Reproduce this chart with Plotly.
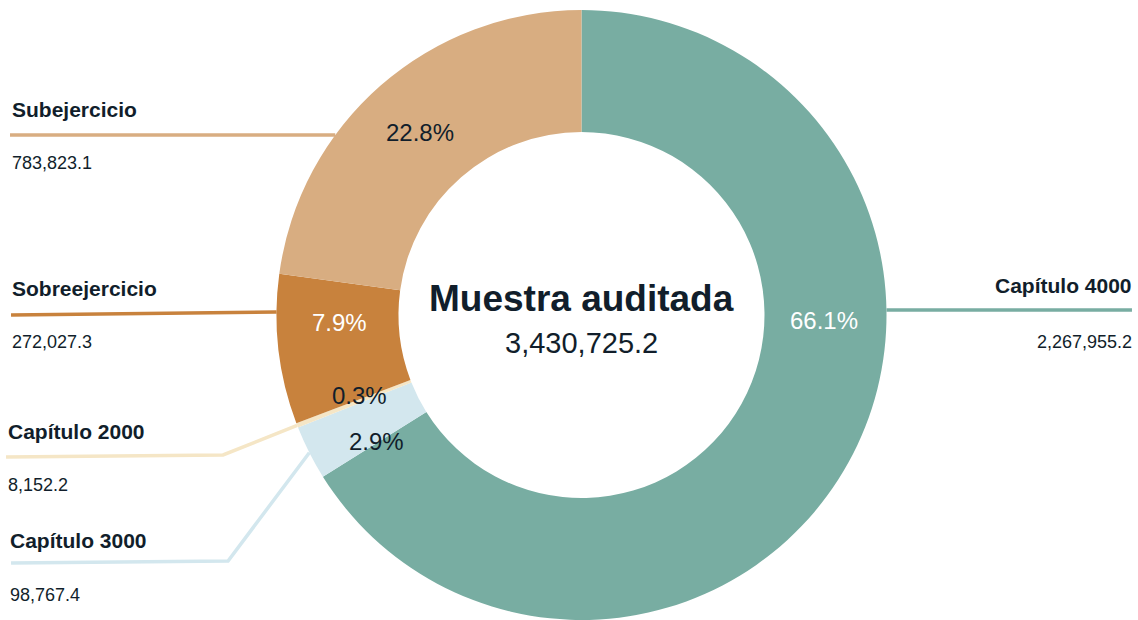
import math
import plotly.graph_objects as go

labels = ["Capítulo 4000", "Capítulo 3000", "Capítulo 2000", "Sobreejercicio", "Subejercicio"]
values = [2267955.2, 98767.4, 8152.2, 272027.3, 783823.1]
pct_labels = ["66.1%", "2.9%", "0.3%", "7.9%", "22.8%"]
colors = ["#78ADA2", "#D3E7EE", "#F5E6C6", "#C8823D", "#D8AD81"]
pct_colors = ["white", "#111E2B", "#111E2B", "white", "#111E2B"]
center_title = "Muestra auditada"

W, H, TOP = 1138, 620, 10
CX, CY, R, HOLE = 581.5, 315, 305, 0.6
TXT = "#111E2B"
FONT = "Liberation Sans, Arial, sans-serif"
PAD = 2  # annotation box padding


def paper(x, y):
    # pixel -> paper coords (plot area starts TOP px below the page top)
    return x / W, 1 - (y - TOP) / (H - TOP)


def edge_point(angle_cw, r=R):
    t = math.radians(90 - angle_cw)
    return CX + r * math.cos(t), CY - r * math.sin(t)


def edge_x_at(y, side):
    return CX + side * math.sqrt(R ** 2 - (CY - y) ** 2)


total = sum(values)
fracs = [v / total for v in values]
mids = []
cum = 0
for f in fracs:
    mids.append(360 * (cum + f / 2))
    cum += f

fig = go.Figure(go.Pie(
    labels=labels, values=values, sort=False, direction="clockwise", rotation=0,
    hole=HOLE, marker=dict(colors=colors, line=dict(width=0)),
    textinfo="none", hoverinfo="label+value+percent",
    domain=dict(x=[CX / W - 0.28, CX / W + 0.28], y=[0, 1]),
    showlegend=False,
))

# label placement (pixels): name y, value y, x, side, line path
side_labels = [
    dict(x=1132, anchor="right", ny=286, vy=342, line=[(1132, 310), ("edge", 310)]),
    dict(x=10, anchor="left", ny=540, vy=595, line=[(11, 563), (228, 561), ("mid", 1)]),
    dict(x=8, anchor="left", ny=432, vy=485, line=[(6, 457), (223, 455), ("mid", 2)]),
    dict(x=12, anchor="left", ny=288, vy=342, line=[(11, 315), ("edge", 312)]),
    dict(x=12, anchor="left", ny=110, vy=163, line=[(10, 135), ("edge", 135)]),
]

# nudges for the percentage labels (pixels)
pct_angle = [90, None, None, None, None]
pct_nudge = [(-2, 5), (13, 16), (5, -8), (0, -20), (-1, 1)]

ann = []
shapes = []
for i, lab in enumerate(labels):
    s = side_labels[i]
    side = 1 if s["anchor"] == "right" else -1
    pts = []
    for p in s["line"]:
        if p[0] == "edge":
            pts.append((edge_x_at(p[1], side), p[1]))
        elif p[0] == "mid":
            pts.append(edge_point(mids[p[1]]))
        else:
            pts.append(p)
    path = "M " + " L ".join("%.4f,%.4f" % paper(*q) for q in pts)
    shapes.append(dict(type="path", path=path, xref="paper", yref="paper",
                       line=dict(color=colors[i], width=3.5)))
    for txt, y, size in [("<b>%s</b>" % lab, s["ny"], 21), ("{:,.1f}".format(values[i]), s["vy"], 18)]:
        x0, y0 = paper(s["x"] + side * PAD, y)
        ann.append(dict(text=txt, x=x0, y=y0, xref="paper", yref="paper",
                        xanchor=s["anchor"], yanchor="middle", showarrow=False,
                        font=dict(size=size, color=TXT, family=FONT)))
    a = pct_angle[i] if pct_angle[i] is not None else mids[i]
    px_, py_ = edge_point(a, R * (1 + HOLE) / 2)
    px_ += pct_nudge[i][0]
    py_ += pct_nudge[i][1]
    x0, y0 = paper(px_, py_)
    ann.append(dict(text=pct_labels[i], x=x0, y=y0, xref="paper", yref="paper",
                    xanchor="center", yanchor="middle", showarrow=False,
                    font=dict(size=24, color=pct_colors[i], family=FONT)))

x0, y0 = paper(CX, 298)
ann.append(dict(text="<b>%s</b>" % center_title, x=x0, y=y0, xref="paper", yref="paper",
                showarrow=False, yanchor="middle", font=dict(size=37, color=TXT, family=FONT)))
x0, y0 = paper(CX, 343)
ann.append(dict(text="{:,.1f}".format(total), x=x0, y=y0, xref="paper", yref="paper",
                showarrow=False, yanchor="middle", font=dict(size=29, color=TXT, family=FONT)))

fig.update_layout(
    width=W, height=H, margin=dict(l=0, r=0, t=TOP, b=0),
    paper_bgcolor="white", plot_bgcolor="white",
    annotations=ann, shapes=shapes,
)
fig.write_html("out.html", config={"displayModeBar": False},
               post_script="document.body.style.margin='0';document.body.style.overflow='hidden';")
